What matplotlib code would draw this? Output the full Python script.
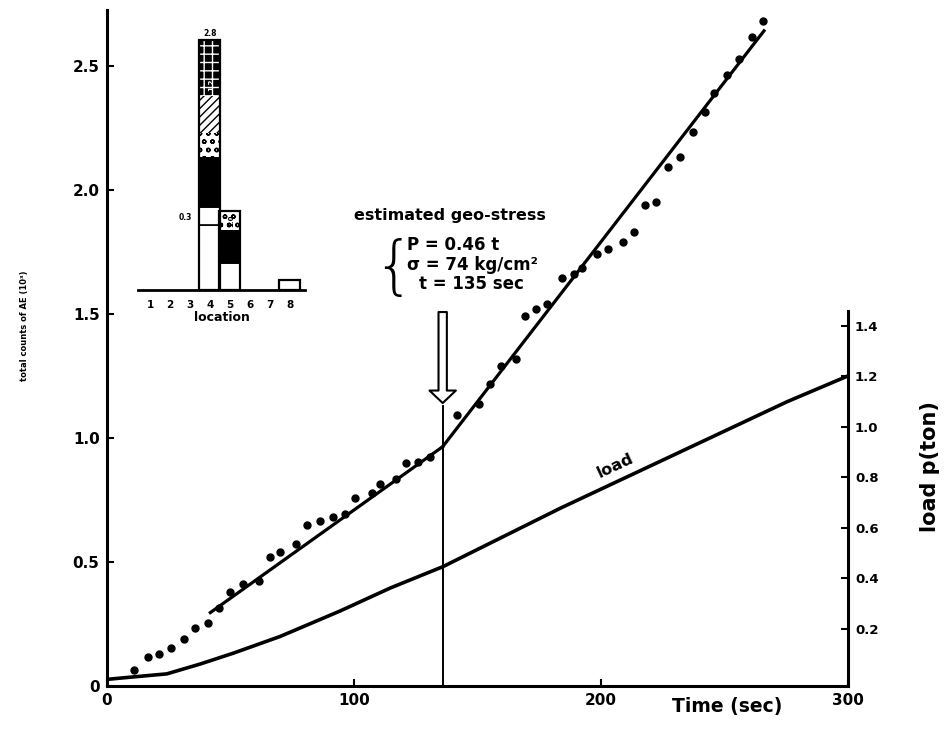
import matplotlib.pyplot as plt

plt.rcParams['font.family'] = ['DejaVu Sans']
plt.rcParams['font.weight'] = 'bold'

# AE total counts (x10^3)
ae_time = [11.3, 16.7, 21.3, 26.2, 31.3, 35.8, 41.1, 45.5, 50.0, 55.3,
           61.7, 66.2, 70.2, 76.7, 81.1, 86.4, 91.6, 96.6, 100.6, 107.4,
           110.7, 117.2, 121.3, 126.2, 131.0, 141.8, 150.5, 155.0, 159.6, 165.8,
           169.4, 173.9, 178.2, 184.3, 189.0, 192.4, 198.5, 202.8, 209.0, 213.3,
           218.0, 222.5, 227.0, 231.9, 237.3, 242.3, 245.9, 251.1, 255.8, 261.2,
           265.7]
ae_count = [0.066, 0.118, 0.129, 0.153, 0.188, 0.233, 0.254, 0.315, 0.379, 0.411,
            0.425, 0.520, 0.540, 0.573, 0.649, 0.664, 0.683, 0.694, 0.758, 0.778,
            0.815, 0.835, 0.899, 0.904, 0.923, 1.093, 1.137, 1.218, 1.289, 1.319,
            1.491, 1.520, 1.540, 1.644, 1.661, 1.684, 1.742, 1.762, 1.792, 1.832,
            1.940, 1.953, 2.092, 2.132, 2.235, 2.313, 2.391, 2.464, 2.528, 2.616,
            2.680]

# straight fits before and after the geo-stress point
fit1_time = [42, 136]
fit1_count = [0.296, 0.965]
fit2_time = [136, 266]
fit2_count = [0.965, 2.642]

# load curve (ton)
load_time = [0, 10.9, 24.4, 37.9, 51.3, 70.2, 94.5, 114.8, 136.2, 183.6, 275.4, 300]
load_ton = [0.0, 0.01, 0.022, 0.061, 0.104, 0.170, 0.271, 0.362, 0.447, 0.678, 1.10, 1.202]

t_geo = 136

# inset: AE counts by location, stacked pieces
loc_ticks = [1, 2, 3, 4, 5, 6, 7, 8]
bar_loc = [4, 4, 4, 4, 4, 4, 5, 5, 5, 8]
bar_bottom = [0, 0.73, 0.93, 1.49, 1.76, 2.17, 0, 0.30, 0.67, 0]
bar_height = [0.73, 0.20, 0.56, 0.27, 0.41, 0.63, 0.30, 0.37, 0.22, 0.11]
bar_style = ['white', 'white', 'black', 'dots', 'hatch', 'grid',
             'white', 'black', 'dots', 'white']

fig = plt.figure(figsize=(9.47, 7.29), dpi=100)
ax = fig.add_axes([0.1125, 0.059, 0.783, 0.9273])

ax.plot(ae_time, ae_count, 'o', color='black', markersize=5)
ax.plot(fit1_time, fit1_count, color='black', lw=2.3)
ax.plot(fit2_time, fit2_count, color='black', lw=2.3)
ax.plot([t_geo, t_geo], [0, 1.13], color='black', lw=1.4)

ax.set_xlim(0, 300)
ax.set_ylim(0, 2.726)
ax.set_xticks([0, 100, 200, 300])
ax.set_xticklabels(['0', '100', '200', '300'])
ax.set_yticks([0, 0.5, 1.0, 1.5, 2.0, 2.5])
ax.set_yticklabels(['0', '0.5', '1.0', '1.5', '2.0', '2.5'])
ax.tick_params(direction='in', length=5, width=1.5, labelsize=11, pad=5)
for s in ['top', 'right']:
    ax.spines[s].set_visible(False)
for s in ['left', 'bottom']:
    ax.spines[s].set_linewidth(2.2)

ax2 = ax.twinx()
ax2.plot(load_time, load_ton, color='black', lw=2.6)
ax2.set_ylim(-0.026, 2.651)
ax2.set_yticks([0.2, 0.4, 0.6, 0.8, 1.0, 1.2, 1.4])
ax2.set_yticklabels(['0.2', '0.4', '0.6', '0.8', '1.0', '1.2', '1.4'])
ax2.tick_params(direction='in', length=5, width=1.5, labelsize=9.5, pad=5)
for s in ['top', 'left', 'bottom']:
    ax2.spines[s].set_visible(False)
ax2.spines['right'].set_linewidth(2.2)
ax2.spines['right'].set_bounds(-0.026, 1.46)

ax.text(206, 0.887, 'load', rotation=25, fontsize=11.5, ha='center', va='center')

# geo-stress annotation
ax.text(139.1, 1.899, 'estimated geo-stress', fontsize=11.5, ha='center', va='center')
ax.text(116.0, 1.68, '{', fontsize=46, fontweight='light', ha='center', va='center')
ax.text(121.6, 1.778, 'P = 0.46 t', fontsize=12, ha='left', va='center')
ax.text(121.6, 1.698, 'σ = 74 kg/cm²', fontsize=12, ha='left', va='center')
ax.text(126.3, 1.621, 't = 135 sec', fontsize=12, ha='left', va='center')
ax.annotate('', xy=(t_geo, 1.141), xytext=(t_geo, 1.508),
            arrowprops=dict(arrowstyle='simple,head_width=0.95,head_length=0.45,tail_width=0.3',
                            fc='white', ec='black', lw=1.5, mutation_scale=20,
                            shrinkA=0, shrinkB=0))

ax.text(251, -0.03, 'Time (sec)', fontsize=13.5, ha='center', va='center',
        transform=ax.get_xaxis_transform())
fig.text(25 / 947, 1 - 326 / 729, 'total counts of AE (10³)', rotation=90,
         fontsize=6, ha='center', va='center')
fig.text(930 / 947, 1 - 467 / 729, 'load p(ton)', rotation=90,
         fontsize=15, ha='center', va='center')

# inset bar chart
ax_in = fig.add_axes([0.1457, 0.6022, 0.1763, 0.3635])
styles = {
    'white': dict(color='white', edgecolor='black', hatch=None, linewidth=1.2),
    'black': dict(color='black', edgecolor='black', hatch=None, linewidth=1.2),
    'dots': dict(color='white', edgecolor='black', hatch='oo', linewidth=0),
    'hatch': dict(color='white', edgecolor='black', hatch='////', linewidth=0),
    'grid': dict(color='black', edgecolor='white', hatch='++', linewidth=0),
}
for loc, b, h, st in zip(bar_loc, bar_bottom, bar_height, bar_style):
    ax_in.bar(loc, h, bottom=b, width=1.05, **styles[st])
totals = {}
for loc, b, h in zip(bar_loc, bar_bottom, bar_height):
    totals[loc] = max(totals.get(loc, 0), b + h)
ax_in.bar(list(totals.keys()), list(totals.values()), width=1.05, fill=False,
          edgecolor='black', linewidth=1.6)
ax_in.text(4, 2.82, '2.8', fontsize=5.5, ha='center', va='bottom')
ax_in.text(2.75, 0.81, '0.3', fontsize=5.5, ha='center', va='center')
ax_in.text(4.05, 2.3, '1.2', fontsize=5, color='white', rotation=90, ha='center', va='center')
ax_in.text(5.05, 0.78, '1.0', fontsize=5, rotation=90, ha='center', va='center')

ax_in.set_xlim(0.4, 8.75)
ax_in.set_ylim(0, 2.97)
ax_in.set_xticks(loc_ticks)
ax_in.set_xticklabels([str(v) for v in loc_ticks])
ax_in.set_yticks([])
ax_in.tick_params(axis='x', length=0, labelsize=7.5, pad=7)
ax_in.set_xlabel('location', fontsize=9, fontweight='bold', labelpad=1)
for s in ['top', 'right', 'left']:
    ax_in.spines[s].set_visible(False)
ax_in.spines['bottom'].set_linewidth(2)
ax_in.patch.set_alpha(0)

fig.savefig('out.png', dpi=100)
